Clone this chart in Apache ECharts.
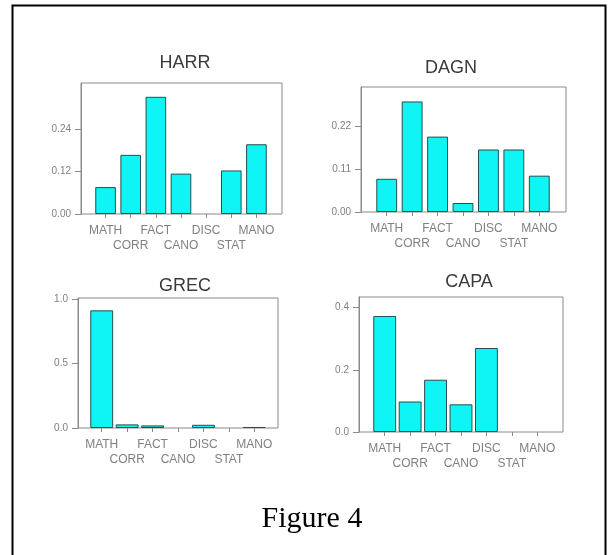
<!DOCTYPE html>
<html>
<head>
<meta charset="utf-8">
<style>
  html, body { margin: 0; padding: 0; background: #ffffff; }
  #chart { width: 612px; height: 555px; }
</style>
<script src="https://cdn.jsdelivr.net/npm/echarts@6/dist/echarts.min.js"></script>
</head>
<body>
<div id="chart"></div>
<script>
// Method categories shared by all four panels
const categories = ['MATH', 'CORR', 'FACT', 'CANO', 'DISC', 'STAT', 'MANO'];

// Proportions per journal
const harrValues = [0.076, 0.167, 0.331, 0.114, 0, 0.123, 0.197];
const dagnValues = [0.085, 0.283, 0.193, 0.023, 0.160, 0.160, 0.093];
const grecValues = [0.914, 0.028, 0.020, 0, 0.025, 0, 0.008];
const capaValues = [0.373, 0.098, 0.168, 0.089, 0.270, 0, 0];

// Value-axis tick labels per panel
const harrTicks = [0, 0.12, 0.24];
const dagnTicks = [0, 0.11, 0.22];
const grecTicks = [0, 0.5, 1.0];
const capaTicks = [0, 0.2, 0.4];

const chart = echarts.init(document.getElementById('chart'), null, { renderer: 'canvas' });

// Each panel: an outer framed grid carrying the value axis, and an inner
// grid (inset from the frame) carrying the category axis and the bars.
const panels = [
  { name: 'HARR', values: harrValues, ticks: harrTicks, digits: 2, max: 0.37,
    box: { left: 81, right: 282, top: 83, bottom: 214 }, inset: [12, 13],
    titleX: 180, titleTop: 49, gap: '18%' },
  { name: 'DAGN', values: dagnValues, ticks: dagnTicks, digits: 2, max: 0.32,
    box: { left: 361, right: 566, top: 87, bottom: 212 }, inset: [13, 14],
    titleX: 446, titleTop: 54, gap: '18%' },
  { name: 'GREC', values: grecValues, ticks: grecTicks, digits: 1, max: 1.01,
    box: { left: 78, right: 278, top: 298, bottom: 428 }, inset: [11, 11],
    titleX: 180, titleTop: 272, gap: '10%' },
  { name: 'CAPA', values: capaValues, ticks: capaTicks, digits: 1, max: 0.434,
    box: { left: 359, right: 563, top: 297, bottom: 432 }, inset: [13, 13],
    titleX: 464, titleTop: 268, gap: '10%' }
];

const grids = [], xAxes = [], yAxes = [], series = [], titles = [];
const axisGray = '#8a8a8a';
const labelGray = '#808080';

panels.forEach((p, k) => {
  const b = p.box;
  const outer = grids.length;
  grids.push({
    left: b.left, top: b.top, width: b.right - b.left, height: b.bottom - b.top,
    show: true, borderColor: axisGray, borderWidth: 1, backgroundColor: 'transparent'
  });
  const inner = grids.length;
  grids.push({
    left: b.left + p.inset[0], top: b.top,
    width: (b.right - b.left) - p.inset[0] - p.inset[1], height: b.bottom - b.top
  });

  xAxes.push({ gridIndex: outer, type: 'value', show: false, min: 0, max: 1 });
  yAxes.push({
    gridIndex: outer, type: 'value', min: 0, max: p.max,
    splitLine: { show: false },
    axisLine: { show: true, lineStyle: { color: axisGray, width: 1 } },
    axisTick: { show: true, length: 6, customValues: p.ticks, lineStyle: { color: axisGray } },
    axisLabel: {
      customValues: p.ticks, margin: 10, color: labelGray, fontSize: 10,
      fontFamily: 'Liberation Sans',
      formatter: v => Number(v).toFixed(p.digits)
    }
  });

  xAxes.push({
    gridIndex: inner, type: 'category', data: categories,
    axisLine: { show: false },
    axisTick: { show: true, alignWithLabel: true, length: 4, lineStyle: { color: axisGray } },
    axisLabel: {
      interval: 0, margin: 9, color: labelGray, fontSize: 12, lineHeight: 15,
      fontFamily: 'Liberation Sans',
      formatter: (v, i) => (i % 2 ? '\n' + v : v)
    }
  });
  yAxes.push({ gridIndex: inner, type: 'value', show: false, min: 0, max: p.max });

  series.push({
    type: 'bar', name: p.name, xAxisIndex: k * 2 + 1, yAxisIndex: k * 2 + 1,
    // empty categories get no outline so nothing is drawn along the axis
    data: p.values.map(v => (v === 0 ? { value: v, itemStyle: { borderWidth: 0 } } : v)),
    barCategoryGap: p.gap,
    itemStyle: { color: '#0ff5f5', borderColor: '#2a4d4d', borderWidth: 1 },
    silent: true
  });

  titles.push({
    text: p.name, left: p.titleX, top: p.titleTop, textAlign: 'center',
    textStyle: { fontFamily: 'Liberation Sans', fontSize: 18, fontWeight: 'normal', color: '#3a3a3a' }
  });
});

// Caption below the panels
titles.push({
  text: 'Figure 4', left: 307, top: 499, textAlign: 'center',
  textStyle: { fontFamily: 'Liberation Serif', fontSize: 30, fontWeight: 'normal', color: '#000000' }
});

chart.setOption({
  animation: false,
  backgroundColor: '#ffffff',
  title: titles,
  grid: grids,
  xAxis: xAxes,
  yAxis: yAxes,
  series: series,
  graphic: [{
    type: 'rect', left: 10, top: 3, silent: true,
    shape: { width: 593, height: 580 },
    style: { fill: 'none', stroke: '#000000', lineWidth: 2 }
  }]
});
</script>
</body>
</html>
